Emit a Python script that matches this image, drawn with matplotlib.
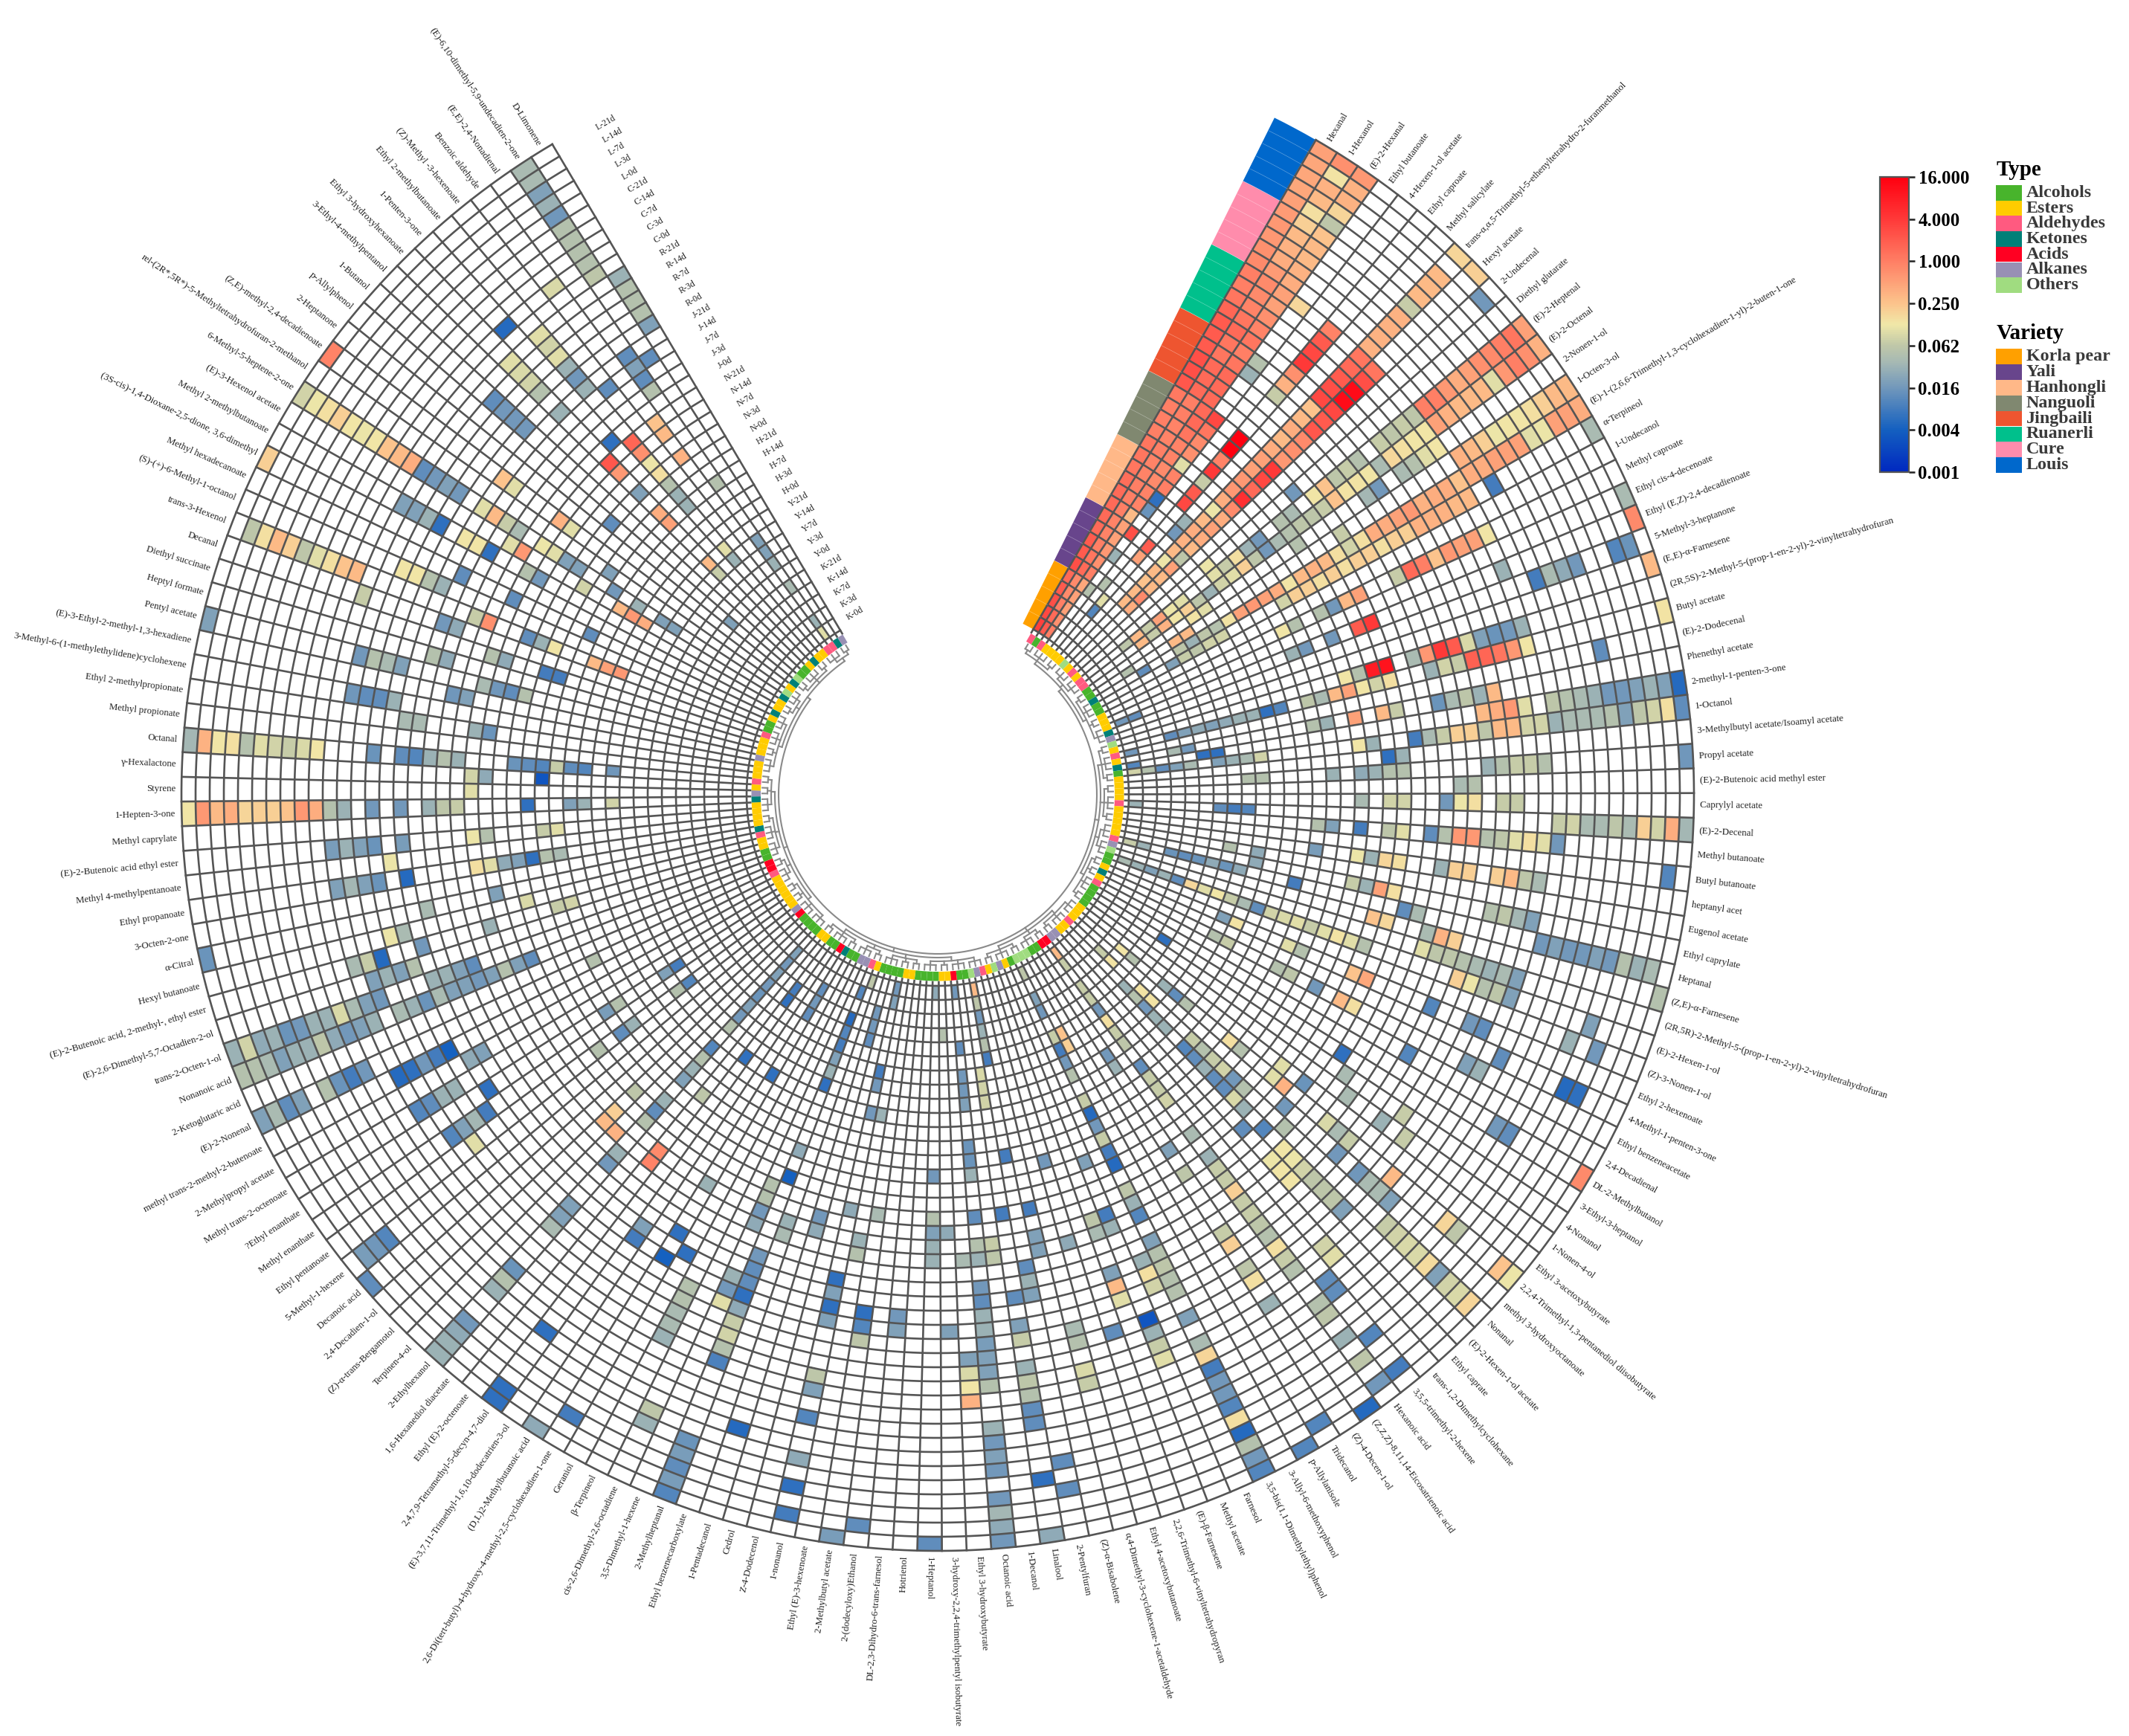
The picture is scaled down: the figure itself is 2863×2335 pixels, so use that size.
import numpy as np
import matplotlib
matplotlib.use('Agg')
import matplotlib.pyplot as plt
from matplotlib.cm import ScalarMappable
from matplotlib.colors import LinearSegmentedColormap, LogNorm
from matplotlib.patches import Rectangle
from matplotlib.ticker import NullLocator

plt.rcParams['font.family'] = ['Liberation Serif', 'DejaVu Sans']

# compounds clockwise, starting from the top right
compounds = ['Hexanal', '1-Hexanol', '(E)-2-Hexanal', 'Ethyl butanoate', '4-Hexen-1-ol acetate', 'Ethyl caproate',
             'Methyl salicylate', 'trans-α,α,5-Trimethyl-5-ethenyltetrahydro-2-furanmethanol', 'Hexyl acetate',
             '2-Undecenal', 'Diethyl glutarate', '(E)-2-Heptenal', '(E)-2-Octenal', '2-Nonen-1-ol', '1-Octen-3-ol',
             '(E)-1-(2,6,6-Trimethyl-1,3-cyclohexadien-1-yl)-2-buten-1-one', 'α-Terpineol', '1-Undecanol',
             'Methyl caproate', 'Ethyl cis-4-decenoate', 'Ethyl (E,Z)-2,4-decadienoate', '5-Methyl-3-heptanone',
             '(E,E)-α-Farnesene', '(2R,5S)-2-Methyl-5-(prop-1-en-2-yl)-2-vinyltetrahydrofuran', 'Butyl acetate',
             '(E)-2-Dodecenal', 'Phenethyl acetate', '2-methyl-1-penten-3-one', '1-Octanol',
             '3-Methylbutyl acetate/Isoamyl acetate', 'Propyl acetate', '(E)-2-Butenoic acid methyl ester',
             'Caprylyl acetate', '(E)-2-Decenal', 'Methyl butanoate', 'Butyl butanoate', 'heptanyl acet',
             'Eugenol acetate', 'Ethyl caprylate', 'Heptanal', '(Z,E)-α-Farnesene',
             '(2R,5R)-2-Methyl-5-(prop-1-en-2-yl)-2-vinyltetrahydrofuran', '(E)-2-Hexen-1-ol', '(Z)-3-Nonen-1-ol',
             'Ethyl 2-hexenoate', '4-Methyl-1-penten-3-one', 'Ethyl benzeneacetate', '2,4-Decadienal',
             'DL-2-Methylbutanol', '3-Ethyl-3-heptanol', '4-Nonanol', '1-Nonen-4-ol', 'Ethyl 3-acetoxybutyrate',
             '2,2,4-Trimethyl-1,3-pentanediol diisobutyrate', 'methyl 3-hydroxyoctanoate', 'Nonanal',
             '(E)-2-Hexen-1-ol acetate', 'Ethyl caprate', 'trans-1,2-Dimethylcyclohexane', '3,5,5-trimethyl-2-hexene',
             'Hexanoic acid', '(Z,Z,Z)-8,11,14-Eicosatrienoic acid', '(Z)-4-Decen-1-ol', 'Tridecanol', 'p-Allylanisole',
             '3-Allyl-6-methoxyphenol', '3,5-bis(1,1-Dimethylethyl)phenol', 'Farnesol', 'Methyl acetate',
             '(E)-β-Farnesene', '2,2,6-Trimethyl-6-vinyltetrahydropyran', 'Ethyl 4-acetoxybutanoate',
             'α,4-Dimethyl-3-cyclohexene-1-acetaldehyde', '(Z)-α-Bisabolene', '2-Pentylfuran', 'Linalool', '1-Decanol',
             'Octanoic acid', 'Ethyl 3-hydroxybutyrate', '3-hydroxy-2,2,4-trimethylpentyl isobutyrate', '1-Heptanol',
             'Hotrienol', 'DL-2,3-Dihydro-6-trans-farnesol', '2-(dodecyloxy)Ethanol', '2-Methylbutyl acetate',
             'Ethyl (E)-3-hexenoate', '1-nonanol', 'Z-4-Dodecenol', 'Cedrol', '1-Pentadecanol',
             'Ethyl benzenecarboxylate', '2-Methylheptanal', '3,5-Dimethyl-1-hexene', 'cis-2,6-Dimethyl-2,6-octadiene',
             'β-Terpineol', 'Geraniol', '2,6-Di(tert-butyl)-4-hydroxy-4-methyl-2,5-cyclohexadien-1-one',
             '(D,L)2-Methylbutanoic acid', '(E)-3,7,11-Trimethyl-1,6,10-dodecatrien-3-ol',
             '2,4,7,9-Tetramethyl-5-decyn-4,7-diol', 'Ethyl (E)-2-octenoate', '1,6-Hexanediol diacetate',
             '2-Ethylhexanol', 'Terpinen-4-ol', '(Z)-α-trans-Bergamotol', '2,4-Decadien-1-ol', 'Decanoic acid',
             '5-Methyl-1-hexene', 'Ethyl pentanoate', 'Methyl enanthate', '?Ethyl enanthate',
             'Methyl trans-2-octenoate', '2-Methylpropyl acetate', 'methyl trans-2-methyl-2-butenoate', '(E)-2-Nonenal',
             '2-Ketoglutaric acid', 'Nonanoic acid', 'trans-2-Octen-1-ol', '(E)-2,6-Dimethyl-5,7-Octadien-2-ol',
             '(E)-2-Butenoic acid, 2-methyl-, ethyl ester', 'Hexyl butanoate', 'α-Citral', '3-Octen-2-one',
             'Ethyl propanoate', 'Methyl 4-methylpentanoate', '(E)-2-Butenoic acid ethyl ester', 'Methyl caprylate',
             '1-Hepten-3-one', 'Styrene', 'γ-Hexalactone', 'Octanal', 'Methyl propionate', 'Ethyl 2-methylpropionate',
             '3-Methyl-6-(1-methylethylidene)cyclohexene', '(E)-3-Ethyl-2-methyl-1,3-hexadiene', 'Pentyl acetate',
             'Heptyl formate', 'Diethyl succinate', 'Decanal', 'trans-3-Hexenol', '(S)-(+)-6-Methyl-1-octanol',
             'Methyl hexadecanoate', '(3S-cis)-1,4-Dioxane-2,5-dione, 3,6-dimethyl', 'Methyl 2-methylbutanoate',
             '(E)-3-Hexenol acetate', '6-Methyl-5-heptene-2-one', 'rel-(2R*,5R*)-5-Methyltetrahydrofuran-2-methanol',
             '(Z,E)-methyl-2,4-decadienoate', '2-Heptanone', 'p-Allylphenol', '1-Butanol', '3-Ethyl-4-methylpentanol',
             'Ethyl 3-hydroxyhexanoate', '1-Penten-3-one', 'Ethyl 2-methylbutanoate', '(Z)-Methyl -3-hexenoate',
             'Benzoic aldehyde', '(E,E)-2,4-Nonadienal', '(E)-6,10-dimethyl-5,9-undecadien-2-one', 'D-Limonene']

# class of each compound, same order: A alcohol E ester D aldehyde K ketone C acid L alkane O other
compound_types = ('DADEEEEOEDEDDAAKAAEEEKLOEDEKAEEEEDEEEEEDLOAAEKED'
                  'AAAAEEEDEELLCCAAOOOAELOEDLOAACEEAAAAEEAAAAEDLLAA'
                  'KCAAEEAAAACLEEEEEEDCCAAEEDKEEEEKLEDEEELEEEDAAEKEEKOEKOAAEKEEDDKL')

type_names = ['Alcohols', 'Esters', 'Aldehydes', 'Ketones', 'Acids', 'Alkanes', 'Others']
type_colors = ['#48b42c', '#ffcc00', '#ff5a80', '#008078', '#ff0022', '#9890b4', '#a0dc80']
type_keys = 'AEDKCLO'

variety_names = ['Korla pear', 'Yali', 'Hanhongli', 'Nanguoli', 'Jingbaili', 'Ruanerli', 'Cure', 'Louis']
variety_colors = ['#ffa000', '#68458c', '#ffb888', '#808870', '#ee5530', '#00c08c', '#ff8cac', '#0068cc']
variety_codes = ['K', 'Y', 'H', 'N', 'J', 'R', 'C', 'L']
day_labels = ['0d', '3d', '7d', '14d', '21d']

cbar_ticks = [1 / 1024, 1 / 256, 1 / 64, 1 / 16, 0.25, 1, 4, 16]
cbar_labels = ['0.001', '0.004', '0.016', '0.062', '0.250', '1.000', '4.000', '16.000']

# (compound number, first row from the centre, values outwards), None = empty cell
heat_north_east = [
    (1, 0, [3.5, 3, 2.5, 2, 1.5, 2.5, 2, 2, 1.5, 1.5, 1.5, 1.5, 1.4, 1.2, 1.2, 1.2, 1, 1, 1, 1.1,
            2.2, 2.5, 2.5, 2, 2, 2, 1.6, 1.2, 1, 1, .8, .7, .6, .6, .55, .5, .45, .45, .45, .5]),
    (2, 0, [2, 1.5, 1, .8, .8, 1.5, 1.2, 1, .9, .9, 1, 1, 1, .9, .9, 1, .9, .9, 1, 1,
            1.5, 1.5, 1.5, 1.2, 1.2, 1.5, 1.2, .9, .8, .8, .55, .4, .35, .3, .2, .15, .3, .35, .14, .7]),
    (3, 0, [1, .7, .5, .5, .45, 1, .7, .6, .5, .5, .3, .9, .9, .8, .8, .9, .9, 1.2, 1.5, 1.5,
            1.5, 1.5, 1.5, 1.2, 1, 1.2, .9, .7, .5, .5, .4, .35, .3, .3, .25, .06, .18, .35, .35, .6]),
    (4, 4, [.05]), (4, 7, [.03]), (4, 9, [2.5]), (4, 11, [.014, .006, 1, .9, .1, .7, .8, 1.2, 3]),
    (4, 23, [.03, .05]), (4, 29, [.17]),
    (5, 5, [.05]),
    (6, 3, [.01, .1]), (6, 8, [.5, 2]), (6, 13, [3, 2, .07, 4, .9, 16, 16]), (6, 23, [.07, .35, .7, 4, 3, 2, .9]),
    (7, 11, [.016, .03]),
    (8, 5, [.3, .3, .25, .3, .12, .3, .35, .4, .3, .12, .4, .6, .6, .5, .5, .4, .3, .4, .3, .25, 3, 2.5, 2, 1.5, 1.2,
            .35, .35, .35, .35, .07, .3, .3, .3, None, .18]),
    (9, 5, [.4, .8, .3, .3, .5, .06, .3, .4, .5, .4, .8, 5, 1.5, 3, 4, .6, .7, .8, 2.2, 2, 3, 12, 12, 2.5, 1.2]),
    (9, 39, [.2]),
    (10, 38, [.016]),
    (11, 11, [.12]), (11, 19, [.016]),
    (12, 3, [.06, .3, .07, .5, .12, .1]), (12, 11, [.1, .07, .15, .03, .016]), (12, 17, [.05, .04]),
    (12, 20, [.13, .25, .06, .07, .05]), (12, 26, [.07, .06, .07, .06, 1, 1, .6, .4, .5, .7, .8, 1, 1.2, .5]),
    (13, 4, [.3, .07, .35, .13, .2, .06, .03, .08, .1, .2, .06, .016, .04, .05, .06, .06, .07, .25, .14, .14, .13, .04,
             .17, .15, .13, .13, .5, .35, .3, .3, .3, .1, .6, 1, .7, .35]),
    (14, 8, [.14, .1]), (14, 17, [.05]), (14, 23, [.035, .016]), (14, 26, [.04, .05, .1, .13]),
    (15, 2, [.05]), (15, 6, [.3, .3]), (15, 20, [.07]), (15, 30, [.35, .3, .2, .12, .13, .13, .15, .2, .3, .3]),
    (16, 3, [.012]), (16, 6, [.06, .03, .06, .05, .14, .5, .6, .5, .4, .13, .3, .35, .3, .15, .08, .15, .4, .4, .5, .6]),
    (16, 26, [.35, .4, .4, .25, .4, .4, .5, .5, .5, .1, .12, .5, .5, .4]),
    (17, 5, [.02, .07, .06, .08, .08]), (17, 14, [.08, .2, .2, .15, .2, .15, .2, .2, .15, .2, .2, .35, .35, .35, .3, .3]),
    (17, 31, [.008]), (17, 39, [.04]),
    (19, 13, [.13, .05]), (19, 16, [.05, .016, .3, .5]), (19, 22, [.07, 1.5, 1, .25, .6, .5, .5, .13]),
    (20, 39, [.04]),
    (21, 0, [.016, .012]), (21, 16, [.016]), (21, 18, [2, 4]), (21, 13, [.03, .016]), (21, 29, [.03]), (21, 39, [.8]),
    (22, 31, [.008, .04, .025, .016]), (22, 37, [.01, .014]),
    (23, 39, [.3]),
    (24, 16, [.13, .05, 8, 10]), (24, 21, [.04, .6, 4, 2, .09, .02, .014, .016, .03]),
    (25, 3, [.012, .02, .025, .02, .025, .03, .03, .006, .01]), (25, 13, [.06, .04, .3, .5, .13, .08, .15]),
    (25, 22, [.03, .08, .07, 1.8, 1.6, 1.2, .6, .13]), (25, 39, [.14]),
    (26, 0, [.016]), (26, 34, [.012]),
    (27, 3, [.04, .016]), (27, 13, [.05, .03]), (27, 16, [.5]), (27, 18, [.3, .07]), (27, 22, [.014, .04, .06, .03, .3]),
    (28, 0, [.01]), (28, 5, [.006, .006]), (28, 25, [.3, .4, .6, .1, None, .06, .05, .04, .03, .016, .016, .02, .03, .02, .016]),
    (28, 39, [.005]),
    (29, 0, [.08, .05, .012, .02, .04]), (29, 6, [.02, .03, .04, .08]), (29, 16, [.13, .03]),
    (29, 20, [.008, .04, .07, .2, .2, .06, .3, .3, .08, .08, .03, .04, .04, .04, .05, .02, .06, .08, .15, .012]),
    (30, 18, [.006, .03]),
]

heat_east = [
    (31, 8, [.05, .05]), (31, 14, [.03]), (31, 16, [.025, .03, .05, .05]), (31, 25, [.03, .05, .07, .07, .05]), (31, 39, [.015]),
    (32, 23, [.04, .05]),
    (33, 16, [.04]), (33, 18, [.08, .08]), (33, 22, [.016, .12, .15]), (33, 26, [.07, .07]),
    (34, 0, [.03]), (34, 6, [.012, .008, .01]),
    (34, 30, [.07, .08, .04, .04, .06, .04, .2, .08, .4, .035]),
    (35, 13, [.05, .02]), (35, 16, [.008]), (35, 18, [.06, .1]), (35, 21, [.012, .05, .6, .6, .05, .06, .1, .15, .1, .016]),
    (36, 38, [.01]),
    (37, 13, [.018]), (37, 16, [.12, .03, .18, .15]), (37, 22, [.03, .2, .2]), (37, 26, [.2, .3, .06, .04]),
    (38, 7, [.05]), (38, 9, [.025]),
    (39, 9, [.025]), (39, 16, [.07, .03, .5, .15]), (39, 26, [.05, .06, .035, .02]),
    (40, 0, [.07, .03]), (40, 3, [.014, .012, .014, .025, .014, .025]), (40, 12, [.008]), (40, 20, [.012, .04]),
    (40, 30, [.016, .02, .016, .016, .02, .016, .05, .03, .04]),
    (41, 18, [.25, .17]), (41, 22, [.04, .35, .2]), (41, 39, [.05]),
    (42, 22, [.1, .06, .06, .05]), (42, 26, [.04, .03, .04, .02]),
    (43, 0, [.04, .03, .02, .03, .012, .17, .1, .13, .07, .04, .012, .08, .09, .1, .07, .1, .14, .1, .05]),
    (43, 25, [.2, .12, .05, .06, .02]), (43, 35, [.02]),
    (44, 34, [.03]), (44, 36, [.016]),
    (45, 8, [.02, .14]), (45, 13, [.1, .05]), (45, 18, [.25, .45]), (45, 24, [.01]), (45, 27, [.016, .012]),
    (46, 30, [.012]), (46, 35, [.005, .006]),
    (47, 8, [.05, .07]), (47, 13, [.05, .06]), (47, 16, [.016]), (47, 18, [.3, .15]), (47, 28, [.02, .03]),
    (48, 24, [.01]),
    (49, 32, [.016, .012]), (49, 39, [.8]),
    (50, 5, [.006]), (50, 20, [.006]),
]

heat_south_east = [
    (51, 21, [.04]), (51, 26, [.07]),
    (52, 22, [.04]), (52, 25, [.03]), (52, 27, [.07]),
    (53, 17, [.1]), (53, 19, [.014]),
    (54, 3, [.13, .05]), (54, 7, [.03, .012, .05]), (54, 13, [.15, .05]), (54, 17, [.1, .35]), (54, 22, [.09, .04, .07]),
    (54, 28, [.3]), (54, 33, [.18, .06]), (54, 38, [.25, .12]),
    (55, 19, [.016]), (55, 24, [.016]), (55, 26, [.015, .04, .04, .02]),
    (56, 2, [.07, .14]), (56, 6, [.14, .14]), (56, 11, [.07, .05, .07, .08, .016, .05]), (56, 20, [.05]),
    (56, 30, [.07, .08, .09, .09, .16, .02, .08, .09, .18]),
    (57, 5, [.03, .05, .016, .03, .03]), (57, 11, [.01, .012, .03, .012, .012, .09, .03]), (57, 19, [.01]),
    (57, 21, [.13, .12, .08, .06, .06, .06, .02]),
    (58, 18, [.012]), (58, 21, [.12, .13, .13]),
    (59, 28, [.08, .1]),
    (60, 30, [.012, .012]), (60, 35, [.01]), (60, 38, [.008]),
    (61, 0, [.3, .07]), (61, 3, [.07, .07, .016, .15, .07, .06]), (61, 10, [.012, .07, .07, .08]), (61, 16, [.04]),
    (61, 18, [.03, .07, .07, .2, .07, .07, .06, .05, .15, .07, .05]), (61, 31, [.05, .06]), (61, 34, [.03]), (61, 36, [.06]),
    (61, 38, [.016]),
    (62, 39, [.005]),
    (63, 8, [.016, .03]), (63, 16, [.02]), (63, 18, [.06]), (63, 23, [.07, .2]), (63, 26, [.06, .15]), (63, 29, [.03]),
    (64, 38, [.01]),
    (65, 39, [.01]),
    (66, 5, [.25, .2]),
    (67, 0, [.06]), (67, 2, [.02, .015]), (67, 5, [.07, .008, .016, .05]), (67, 10, [.07, .005, .016, .07, .008, .005]),
    (67, 17, [.06, .03, .01]), (67, 21, [.02, .05, .06, .05, .05]), (67, 27, [.02]),
    (67, 29, [.04, .18, .008, .016, .016, .01, .15, .005, .05, .016, .01]),
    (68, 22, [.03, .15, .08]),
    (69, 14, [.02]), (69, 18, [.008, .03]), (69, 26, [.003, .03, .07, .1]),
    (70, 18, [.06, .04]), (70, 22, [.02, .3, .1]),
    (71, 26, [.012]),
    (72, 13, [.016]), (72, 19, [.025]),
    (73, 25, [.04, .05]), (73, 28, [.09, .07]),
    (74, 16, [.008]), (74, 18, [.02, .02]),
    (75, 0, [.3, .06, .016, .03, .05, .008]), (75, 12, [.008]), (75, 20, [.012, .03, .02]), (75, 34, [.012]), (75, 36, [.012]),
    (76, 6, [.09, .08, .08]), (76, 16, [.008]), (76, 22, [.012]), (76, 24, [.02, .07]), (76, 27, [.03, .06, .05]),
    (76, 30, [.012, .012]), (76, 35, [.006]), (76, 39, [.025]),
    (77, 18, [.07, .06]),
    (78, 0, [.016]), (78, 4, [.012]), (78, 6, [.016, .016, .02]), (78, 11, [.014, .014, .03]), (78, 16, [.012]),
    (78, 18, [.05, .03]), (78, 21, [.016, .012, .03, .03, .018]), (78, 26, [.02, .02, .05]),
    (78, 31, [.03, .016, .02, .016]), (78, 36, [.016, .035, .025, .016]),
    (79, 19, [.04]), (79, 26, [.02, .09, .13, .35]),
    (80, 3, [.05]), (80, 17, [.025]), (80, 24, [.02]),
]

heat_south = [
    (81, 0, [.025]), (81, 13, [.016]), (81, 16, [.05, .02, .03, .03]), (81, 39, [.012]),
    (83, 23, [.016, .02]),
    (84, 38, [.012]),
    (85, 16, [.04]), (85, 23, [.006, .01, .06]), (85, 39, [.018]),
    (86, 9, [.03]), (86, 18, [.03, .05]),
    (87, 0, [.016, .02]), (87, 6, [.008, .016]), (87, 9, [.016]), (87, 16, [.025]), (87, 21, [.006, .02, .006, .02]),
    (87, 28, [.06, .02]), (87, 31, [.01]), (87, 34, [.025]), (87, 36, [.006]), (87, 38, [.008]),
    (89, 2, [.016, .016, .012]), (89, 17, [.016, .025]),
    (90, 33, [.005]),
    (91, 0, [.06]), (91, 18, [.03, .04]),
    (92, 1, [.01]), (92, 3, [.005, .01, .008, .02, .03, .006]), (92, 13, [.025]), (92, 15, [.004]),
    (92, 21, [.016, .012, .012, .006, .025, .07, .08, .05, .009]), (92, 35, [.014, .018, .012, .018, .01]),
    (93, 16, [.05, .05, .016, .025]), (93, 23, [.03, .016, .1]),
    (94, 34, [.06, .03]),
    (95, 25, [.05, .05, .04, .04, .03]),
    (96, 23, [.006]),
    (97, 2, [.012, .016, .012]), (97, 9, [.006]), (97, 18, [.03]), (97, 22, [.006]), (97, 24, [.004]), (97, 37, [.008]),
    (98, 39, [.025]),
    (99, 23, [.02, .008]),
    (100, 3, [.008, .006]), (100, 9, [.006]), (100, 33, [.006]), (100, 38, [.006, .006]),
    (101, 13, [.06]), (101, 18, [.8, .9]),
    (103, 1, [.02, .016, .02, .016, .014, .02, .016, .05]), (103, 10, [.01, .05, .03, .02]), (103, 15, [.03, .012, .05]),
    (103, 20, [.03, .016]), (103, 25, [.02, .02, .04]), (103, 31, [.014, .05, .03]), (103, 36, [.016, .025, .03, .03]),
    (104, 19, [.35]),
    (105, 16, [.06]), (105, 18, [.2, .3]),
    (107, 39, [.012]),
    (108, 36, [.01, .015, .018]),
    (109, 8, [.01, .05]), (109, 13, [.03, .012]), (109, 16, [.05]), (109, 27, [.1]),
    (110, 25, [.008, .035, .02, .01]),
]

heat_west = [
    (111, 8, [.008, .02]), (111, 13, [.05, .018]), (111, 24, [.006]),
    (112, 26, [.03, .03, .012, .01]),
    (113, 23, [.02, .025]),
    (114, 25, [.004, .008, .016, .006, .005]),
    (115, 13, [.05]), (115, 31, [.016, .008, .014, .05]), (115, 36, [.02, .012, .04, .02]),
    (117, 17, [.012, .02, .05, .02, .016, .02, .02, .04, .014, .03, .04]), (117, 29, [.03, .02, .016, .025, .06, .03, .03, .02, .04, .05, .05]),
    (118, 21, [.012, .02, .03, .03]), (118, 28, [.015, .02, .04, .09, .03, .03, .016, .014, .03, .025, .08, .03]),
    (119, 25, [.05, .02, .03, .02]),
    (120, 13, [.08, .07]), (120, 19, [.03]), (120, 24, [.016]), (120, 27, [.005, .07, .04]),
    (121, 16, [.09]), (121, 25, [.04, .12]),
    (122, 18, [.02]), (122, 23, [.04]), (122, 39, [.014]),
    (124, 13, [.04, .05]), (124, 15, [.006, .02, .025, .1, .15]), (124, 24, [.005]), (124, 26, [.014, .02, .035, .02]),
    (125, 25, [.12]),
    (126, 13, [.1, .07]), (126, 18, [.05, .12]), (126, 24, [.018]), (126, 26, [.014, .02, .03, .018]),
    (128, 9, [.08]), (128, 11, [.03, .02]), (128, 15, [.006]), (128, 20, [.07, .06, .03]), (128, 24, [.016]), (128, 26, [.016]),
    (128, 28, [.03, .05, .4, .6, .25, .2, .2, .18, .4, .3, .6, .13]),
    (129, 19, [.1]),
    (130, 14, [.003]), (130, 18, [.025, .08]),
    (131, 9, [.015]), (131, 11, [.01, .012, .07, .01, .012, .014]), (131, 20, [.03, .05, .03, .01, .012]), (131, 26, [.014]),
    (131, 30, [.13, .09, .07, .08, .1, .05, .15, .13, .35, .035]),
    (133, 18, [.014, .03]), (133, 23, [.04, .04]),
    (134, 25, [.03, .012, .012, .015]),
    (135, 20, [.02, .015]),
]

heat_north_west = [
    (136, 16, [.05, .012, .015, .04]), (136, 25, [.02, .04, .05, .016]), (136, 39, [.02]),
    (137, 22, [.025, .05]),
    (138, 14, [.008, .008]), (138, 18, [.025, .05]),
    (139, 22, [.025, .016]), (139, 29, [.07]),
    (140, 10, [.6, .5, .3]), (140, 15, [.13, .03, .012]), (140, 20, [.7, .07]),
    (140, 30, [.3, .25, .15, .1, .06, .2, .3, .15, .06]),
    (141, 24, [.03, .05, .13, .13]),
    (142, 13, [.012]), (142, 19, [.012]), (142, 23, [.012]),
    (143, 39, [.2]),
    (144, 18, [.016, .05]), (144, 22, [.006, .13, .13]), (144, 26, [.006, .03, .02, .02]),
    (145, 10, [.4, .6, .3]), (145, 15, [.08]), (145, 20, [.6, .1]),
    (146, 8, [.02, .02]), (146, 11, [.03]), (146, 13, [.016]), (146, 16, [.02, .02, .1, .12, None, .04, .07, .3, .1]),
    (146, 26, [.016, .02, .016, .012, .4, .3, .25, .13, .12, .13, .2, .15, .12, .08]),
    (147, 14, [.02]),
    (148, 18, [.1, .35]), (148, 23, [.1, .25]), (148, 39, [.9]),
    (150, 5, [.02]), (150, 16, [.012]),
    (151, 25, [.016, .016, .016, .012]),
    (153, 8, [.07, .3]), (153, 13, [.5, .4]), (153, 16, [.02]), (153, 18, [.6, 2.2]), (153, 24, [.03]),
    (153, 26, [.05, .08, .09, .1]),
    (154, 20, [.006]), (154, 31, [.005]),
    (155, 8, [.03, .1]), (155, 13, [.03, .03, .05, .15, .12, .7, 1.6]), (155, 24, [.03, .015, .03, .1, .08, .1]),
    (156, 23, [.012]),
    (157, 16, [.35]), (157, 18, [.3, .25]), (157, 31, [.09]),
    (158, 0, [.1, .03]), (158, 4, [.04]), (158, 6, [.03, .02, .02]), (158, 13, [.05]), (158, 21, [.05, .012, .02, .012]),
    (159, 23, [.012]), (159, 30, [.06, .05, .05, .05, .05, .015, .03, .02, .04, .04]),
    (160, 25, [.02, .05, .05, .05, .03]),
]

# dendrogram groups: leaves per twig, twigs per branch, branches per limb
den_twigs = [2, 3, 2, 3, 3, 2, 3, 2, 3, 2, 3, 2, 2, 3, 2, 3, 3, 2, 2, 3, 2, 3, 3, 2, 2, 3, 2, 3, 2, 3,
             3, 2, 3, 2, 2, 3, 2, 3, 2, 3, 2, 3, 3, 2, 2, 3, 2, 3, 3, 2, 3, 2, 2, 3, 2, 3, 3, 2, 3, 2, 3, 2, 3, 2]
den_branches = [3, 2, 4, 3, 3, 2, 4, 3, 2, 3, 4, 3, 2, 3, 4, 2, 3, 3, 4, 2, 3, 2]
den_limbs = [3, 4, 3, 4, 4, 4]

# layout in pixels of the output picture
cx, cy = 1261, 1069
r_limit = 1250
r_inner, row_h = 257, 19
col_step = 1.871
start_deg = 30.0
n_col, n_row = len(compounds), len(variety_codes) * len(day_labels)
line_col = '#555555'


def col_mid(c):
    return np.deg2rad(start_deg + (c - 0.5) * col_step)


def arc(ax, t0, t1, r, **kw):
    n = max(3, int(abs(t1 - t0) * 80))
    ax.plot(np.linspace(t0, t1, n), np.full(n, r), **kw)


def group_up(nodes, sizes, r_new, ax):
    # joins nodes (theta, r) with a bracket, returns the new nodes
    out, i = [], 0
    for s in sizes:
        part = nodes[i:i + s]
        i += s
        if not part:
            break
        if len(part) == 1:
            out.append(part[0])
            continue
        for t, r in part:
            ax.plot([t, t], [r, r_new], color='#8a8a8a', lw=1.5)
        arc(ax, part[0][0], part[-1][0], r_new, color='#8a8a8a', lw=1.5)
        out.append((np.mean([p[0] for p in part]), r_new))
    out.extend(nodes[i:])
    return out


cmap = LinearSegmentedColormap.from_list('heat', [
    (0.0, '#0028c0'), (0.143, '#1460c0'), (0.286, '#7298bb'), (0.37, '#a5b8b4'), (0.43, '#c0c8a8'),
    (0.5, '#f0e8a8'), (0.571, '#fcc48c'), (0.716, '#ff7e64'), (0.86, '#ff3838'), (1.0, '#ff0010')])
norm = LogNorm(vmin=1 / 1024, vmax=16)

heat = np.full((n_row, n_col), np.nan)
for block in [heat_north_east, heat_east, heat_south_east, heat_south, heat_west, heat_north_west]:
    for col, first, vals in block:
        for k, v in enumerate(vals):
            if v is not None and first + k < n_row:
                heat[first + k, col - 1] = v

fig = plt.figure(figsize=(28.63, 23.35), dpi=100)
ax = fig.add_axes([(cx - r_limit) / 2863, (2335 - cy - r_limit) / 2335, 2 * r_limit / 2863, 2 * r_limit / 2335],
                  projection='polar')
ax.set_theta_zero_location('N')
ax.set_theta_direction(-1)
ax.set_ylim(0, r_limit)
ax.axis('off')

theta_edges = np.deg2rad(start_deg + np.arange(n_col + 1) * col_step)
r_edges = r_inner + np.arange(n_row + 1) * row_h
ax.pcolormesh(theta_edges, r_edges, np.ma.masked_invalid(heat), cmap=cmap, norm=norm, shading='flat')

# grid over the cells
for t in theta_edges:
    ax.plot([t, t], [r_inner - 5, r_edges[-1]], color=line_col, lw=1.9)
for r in r_edges:
    arc(ax, theta_edges[0], theta_edges[-1], r, color=line_col, lw=1.9)

# type ring
ring_cols = [type_colors[type_keys.index(k)] for k in compound_types]
ax.bar((theta_edges[:-1] + theta_edges[1:]) / 2, 12.5, width=np.deg2rad(col_step), bottom=238, color=ring_cols, lw=0)

# variety strip on the first edge
strip_w = np.deg2rad(3.5)
for i, col in enumerate(variety_colors):
    ax.bar(theta_edges[0] - strip_w / 2 - 0.001, 5 * row_h, width=strip_w, bottom=r_inner + 5 * i * row_h, color=col, lw=0)
for r in r_edges[1:-1]:
    arc(ax, theta_edges[0] - strip_w, theta_edges[0], r, color='white', lw=0.4, alpha=0.45)

# dendrogram
nodes = [(col_mid(c + 1), 236) for c in range(n_col)]
nodes = group_up(nodes, den_twigs, 229, ax)
nodes = group_up(nodes, den_branches, 224, ax)
nodes = group_up(nodes, den_limbs, 219, ax)
group_up(nodes, [len(nodes)], 214, ax)

# labels
for c, name in enumerate(compounds):
    deg = start_deg + (c + 0.5) * col_step
    if deg <= 180.8:
        ax.text(np.deg2rad(deg), r_edges[-1] + 8, name, rotation=90 - deg, ha='left', va='center',
                rotation_mode='anchor', fontsize=9.25, color='#222222')
    else:
        ax.text(np.deg2rad(deg), r_edges[-1] + 8, name, rotation=270 - deg, ha='right', va='center',
                rotation_mode='anchor', fontsize=9.25, color='#222222')
i = 0
for code in variety_codes:
    for day in day_labels:
        ax.text(np.deg2rad(332.9), r_inner + (i + 0.5) * row_h, code + '-' + day, rotation=30, ha='left', va='center',
                rotation_mode='anchor', fontsize=8.6, color='#222222')
        i += 1

# colour bar
cax = fig.add_axes([2528 / 2863, 1 - 635 / 2335, 39 / 2863, 397 / 2335])
cb = fig.colorbar(ScalarMappable(norm=norm, cmap=cmap), cax=cax)
cb.set_ticks(cbar_ticks, labels=cbar_labels)
cax.yaxis.set_minor_locator(NullLocator())
cax.tick_params(axis='y', length=6, width=1.8, labelsize=17.8, pad=3, color='#222222')
for lab in cax.get_yticklabels():
    lab.set_fontweight('bold')
cb.outline.set_edgecolor('#555555')
cb.outline.set_linewidth(1.6)

# legends, drawn in pixel coordinates
lg = fig.add_axes([0, 0, 1, 1], facecolor='none')
lg.set_xlim(0, 2863)
lg.set_ylim(2335, 0)
lg.axis('off')


def legend_block(title, names, colors, title_y, top, step):
    lg.text(2685, title_y, title, fontsize=21, fontweight='bold', color='black', va='center', ha='left')
    for i, (n, col) in enumerate(zip(names, colors)):
        lg.add_patch(Rectangle((2684, top + i * step), 35, step, facecolor=col, edgecolor='none'))
        lg.text(2725, top + (i + 0.5) * step, n, fontsize=17.3, fontweight='bold', color='#3a3a3a', va='center', ha='left')


legend_block('Type', type_names, type_colors, 229, 249, 20.7)
legend_block('Variety', variety_names, variety_colors, 449, 469, 20.9)

fig.savefig('out.png', dpi=100, facecolor='white')
